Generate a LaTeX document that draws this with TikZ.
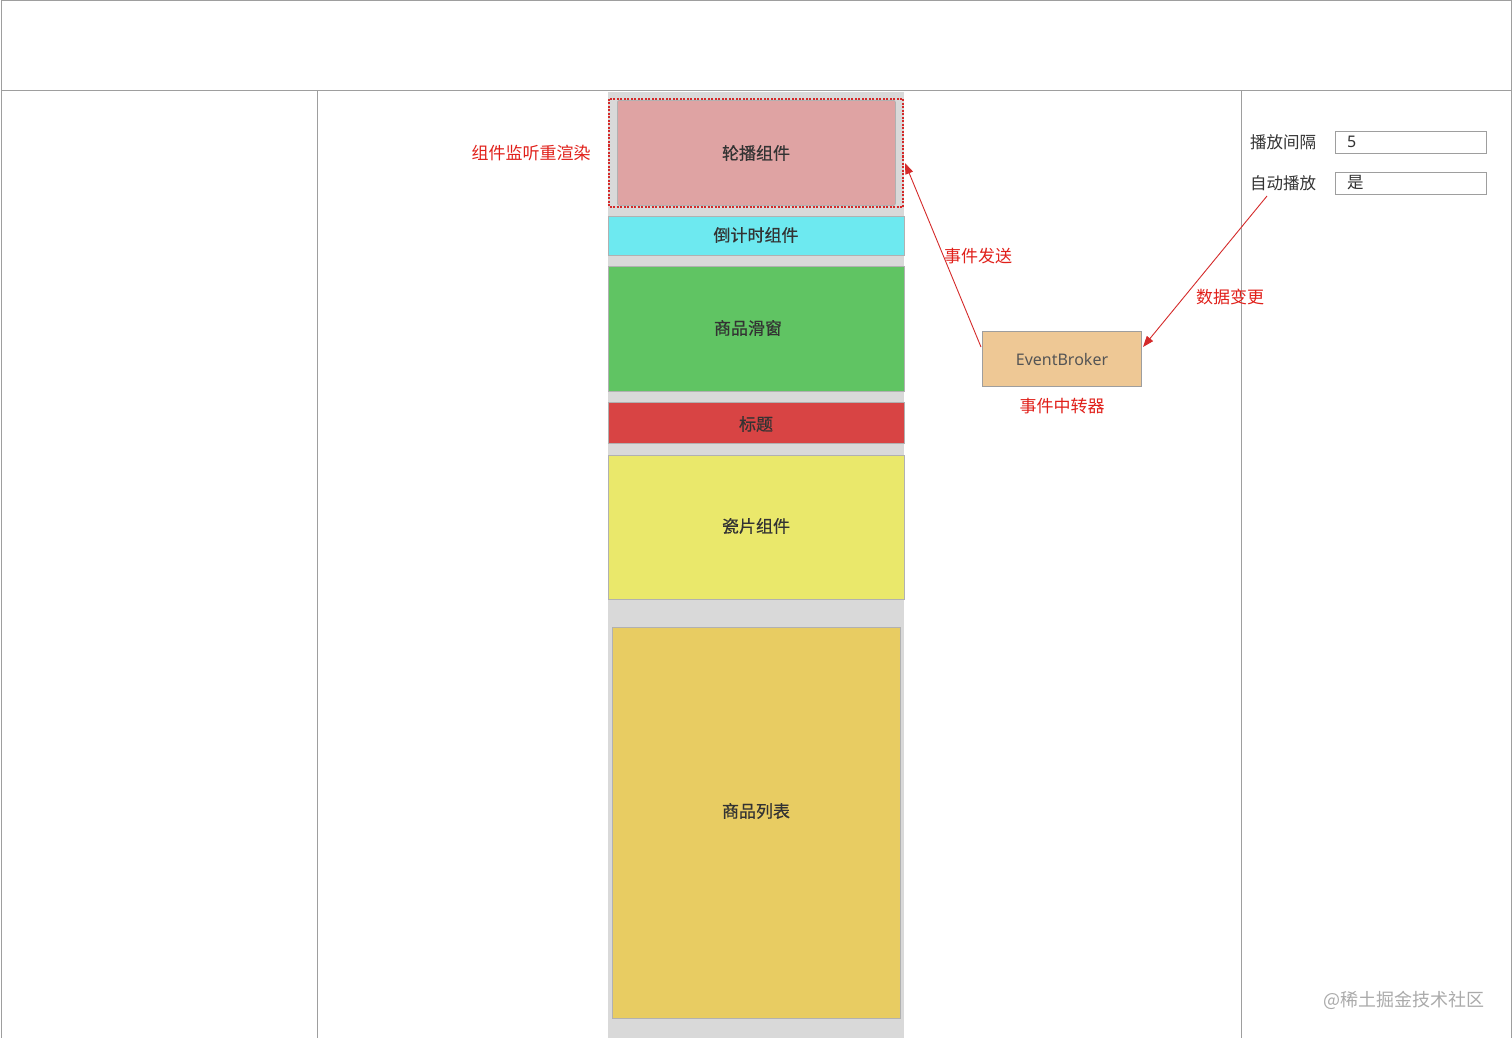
\documentclass[tikz,border=0pt]{standalone}
\usepackage{fontspec}
\setmainfont{Noto Sans CJK SC}
\newfontfamily\latinfont{Noto Sans}
\newfontfamily\cjkmed[FakeBold=0.6]{Noto Sans CJK SC}
\usetikzlibrary{arrows.meta}
\definecolor{frame}{HTML}{9E9E9E}
\definecolor{colbg}{HTML}{D9D9D9}
\definecolor{txt}{HTML}{333333}
\definecolor{redtxt}{HTML}{E0201A}
\definecolor{arrowred}{HTML}{D42A2A}
\tikzset{
  panel/.style={draw=frame, line width=1pt},
  block/.style={draw=frame!80, line width=0.8pt, text=txt, font=\cjkmed\fontsize{17}{19}\selectfont},
  blocktext/.style={text=txt, font=\cjkmed\fontsize{17}{19}\selectfont, inner sep=0pt},
  redlabel/.style={text=redtxt, font=\fontsize{17}{19}\selectfont, inner sep=0pt},
  graylabel/.style={text=txt, font=\fontsize{16.5}{18}\selectfont, inner sep=0pt},
  link/.style={draw=arrowred, line width=0.9pt, -{Triangle[length=11pt,width=8pt]}},
  inputbox/.style={draw=frame, line width=1pt, fill=white},
}
\begin{document}
\begin{tikzpicture}[x=1pt,y=-1pt]
\useasboundingbox (0,0) rectangle (1512,1038);
% frames
\draw[panel] (1,1) rectangle (1511,91);
\draw[panel] (1,91) rectangle (317,1040);
\draw[panel] (1241,91) rectangle (1511,1040);
% grey column
\fill[colbg] (608,92) rectangle (904,1038);
% blocks
\node[block, fill={rgb,255:red,223;green,163;blue,163}, rounded corners=2pt, minimum width=278pt, minimum height=105pt, anchor=north west] (carousel) at (617,100) {};
\node[blocktext] (carouseltext) at (756,153) {轮播组件};
\draw[arrowred, line width=2pt, dash pattern=on 2pt off 1.5pt] (609,99) rectangle (903,207);
\coordinate (carouselEdge) at (905,163);
\node[block, fill={rgb,255:red,109;green,233;blue,240}, minimum width=296pt, minimum height=39pt, anchor=north west] (countdown) at (608,216) {};
\node[blocktext] (countdowntext) at (756,235) {倒计时组件};
\node[block, fill={rgb,255:red,96;green,196;blue,99}, minimum width=296pt, minimum height=125pt, anchor=north west] (slider) at (608,266) {};
\node[blocktext] (slidertext) at (748,328) {商品滑窗};
\node[block, fill={rgb,255:red,216;green,68;blue,68}, minimum width=296pt, minimum height=41pt, anchor=north west] (title) at (608,402) {};
\node[blocktext] (titletext) at (756,424) {标题};
\node[block, fill={rgb,255:red,234;green,232;blue,107}, minimum width=296pt, minimum height=144pt, anchor=north west] (tile) at (608,455) {};
\node[blocktext] (tiletext) at (756,526) {瓷片组件};
\node[block, fill={rgb,255:red,232;green,204;blue,98}, minimum width=288pt, minimum height=391pt, anchor=north west] (list) at (612,627) {};
\node[blocktext] (listtext) at (756,811) {商品列表};
% labels
\node[redlabel] (listen) at (531,153) {组件监听重渲染};
% broker
\node[draw=frame, line width=1pt, fill={rgb,255:red,238;green,200;blue,149}, minimum width=159pt, minimum height=55pt, anchor=north west, text={rgb,255:red,85;green,85;blue,85}, font=\latinfont\fontsize{16}{18}\selectfont] (broker) at (982,331) {EventBroker};
\node[redlabel] (brokerlabel) at (1062,406) {事件中转器};
% right panel
\node[graylabel] (interval) at (1283,142) {播放间隔};
\node[graylabel] (auto) at (1283,183) {自动播放};
\node[inputbox, minimum width=151pt, minimum height=22pt, anchor=north west] (intervalbox) at (1335,131) {};
\node[inputbox, minimum width=151pt, minimum height=22pt, anchor=north west] (autobox) at (1335,172) {};
\node[graylabel, anchor=west, font=\latinfont\fontsize{16}{18}\selectfont] (five) at (1347,142) {5};
\node[graylabel, anchor=west] (yes) at (1347,183) {是};
% connectors
\coordinate (brokerW) at (981,347);
\coordinate (brokerE) at (1143,347);
\coordinate (autoS) at (1267,196);
\draw[link] (brokerW) -- (carouselEdge);
\draw[link] (autoS) -- (brokerE);
\node[redlabel] (send) at (978,256) {事件发送};
\node[redlabel] (change) at (1230,297) {数据变更};
% watermark
\node[text={rgb,255:red,170;green,170;blue,170}, font=\fontsize{18}{20}\selectfont, inner sep=0pt] (wm) at (1404,1000) {@稀土掘金技术社区};
\end{tikzpicture}
\end{document}
